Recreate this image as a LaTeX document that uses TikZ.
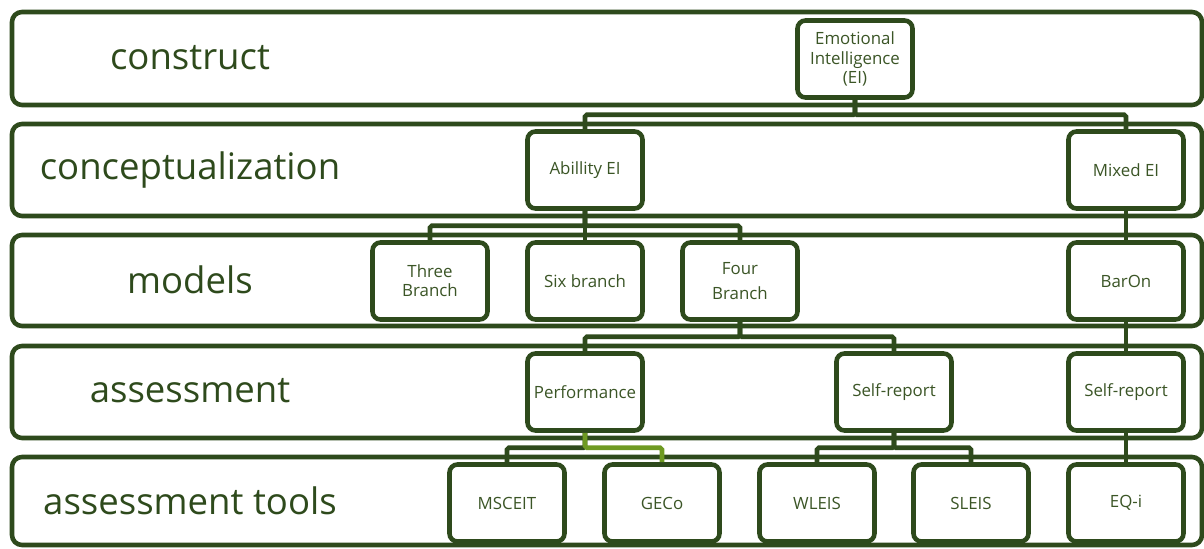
\documentclass[tikz,border=0pt]{standalone}
\usepackage{fontspec}
\setmainfont{Open Sans}
\usetikzlibrary{calc}

\definecolor{eiGreen}{HTML}{2E4A1C}
\definecolor{eiText}{HTML}{3B5526}
\definecolor{eiLight}{HTML}{6E9A22}

\begin{document}
\begin{tikzpicture}[
		x=0.02cm, y=-0.02cm,
		band/.style={draw=eiGreen, line width=2.6pt, rounded corners=0.2cm},
		level/.style={text=eiGreen, font=\fontsize{20.8}{25}\selectfont},
		box/.style={draw=eiGreen, fill=white, line width=2.6pt, rounded corners=0.16cm, minimum width=2.3cm, minimum height=1.54cm, align=center, text=eiText, font=\fontsize{9.6}{11}\selectfont, inner sep=1pt},
		link/.style={draw=eiGreen, line width=2.6pt, rounded corners=1pt}
	]
	
	\useasboundingbox (0,0) rectangle (1204,548);
	
	\def\bandL{12} % left edge of the bands
	\def\bandR{1202} % right edge of the bands
	\def\labelX{190} % centre of the row labels
	\def\drop{15} % stem below a box down to its branch line
	
	% the bands with their labels
	\draw[band] (\bandL,12) rectangle (\bandR,105);
	\node[level] (construct) at (\labelX,58) {construct};
	\draw[band] (\bandL,124) rectangle (\bandR,216);
	\node[level] (concept) at (\labelX,170) {conceptualization};
	\draw[band] (\bandL,235) rectangle (\bandR,326);
	\node[level] (models) at (\labelX,280) {models};
	\draw[band] (\bandL,346) rectangle (\bandR,438);
	\node[level] (assess) at (\labelX,391) {assessment};
	\draw[band] (\bandL,457) rectangle (\bandR,545);
	\node[level] (tools) at (\labelX,501) {assessment tools};
	
	% construct
	\node[box] (ei) at (855,59) {Emotional\\Intelligence\\(EI)};
	
	% conceptualization
	\node[box] (ability) at (585,170) {Abillity EI};
	\node[box] (mixed) at (1126,170) {Mixed EI};
	
	% models
	\node[box] (three) at (430,281) {Three\\Branch};
	\node[box] (six) at (585,281) {Six branch};
	\node[box] (four) at (740,281) {Four\\[3pt]Branch};
	\node[box] (baron) at (1126,281) {BarOn};
	
	% assessment
	\node[box] (perf) at (585,392) {Performance};
	\node[box] (selfA) at (894,392) {Self-report};
	\node[box] (selfB) at (1126,392) {Self-report};
	
	% assessment tools
	\node[box] (msceit) at (507,503) {MSCEIT};
	\node[box] (geco) at (662,503) {GECo};
	\node[box] (wleis) at (817,503) {WLEIS};
	\node[box] (sleis) at (971,503) {SLEIS};
	\node[box] (eqi) at (1126,503) {EQ-i};
	
	% the tree links
	\draw[link] (ei.south) -- ++(0,\drop) -| (ability.north);
	\draw[link] (ei.south) -- ++(0,\drop) -| (mixed.north);
	\draw[link] (ability.south) -- ++(0,\drop) -| (three.north);
	\draw[link] (ability.south) -- ++(0,\drop) -| (four.north);
	\draw[link] (ability.south) -- (six.north);
	\draw[link] (four.south) -- ++(0,\drop) -| (perf.north);
	\draw[link] (four.south) -- ++(0,\drop) -| (selfA.north);
	\draw[link] (perf.south) -- ++(0,\drop) -| (msceit.north);
	\draw[link, draw=eiLight] (perf.south) -- ++(0,\drop) -| (geco.north); % highlighted branch
	\draw[link] (selfA.south) -- ++(0,\drop) -| (wleis.north);
	\draw[link] (selfA.south) -- ++(0,\drop) -| (sleis.north);
	\draw[link] (mixed.south) -- (baron.north);
	\draw[link] (baron.south) -- (selfB.north);
	\draw[link] (selfB.south) -- (eqi.north);
	
\end{tikzpicture}
\end{document}
